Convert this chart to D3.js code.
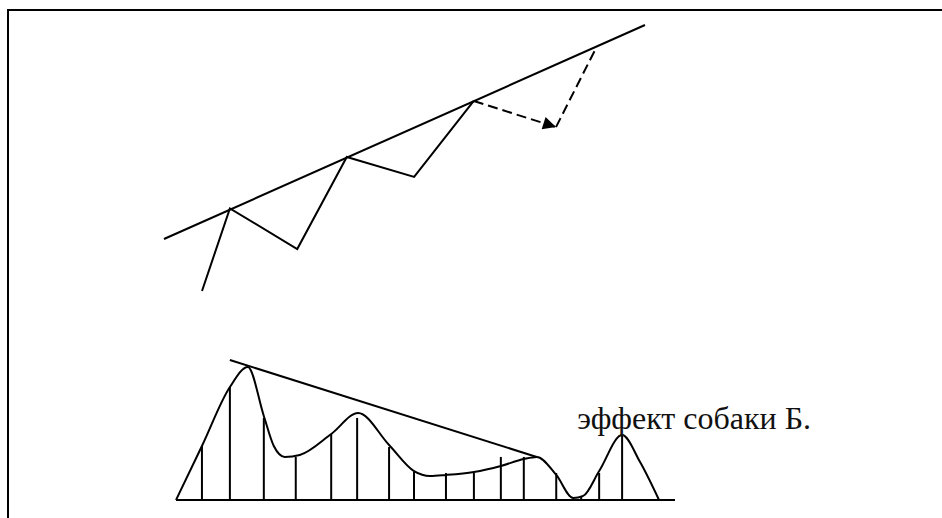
<!DOCTYPE html>
<html><head><meta charset="utf-8">
<script src="https://cdn.jsdelivr.net/npm/d3@7"></script>
<style>html,body{margin:0;padding:0;background:#fff;}svg{display:block;}</style>
</head><body>
<script>
// ---- Top panel: trend line and zigzag (data units 0..100) ----
const topTrend = [[0, 0], [100, 100]];
const topZigzag = [[7.9, -24.3], [13.7, 14.3], [27.7, -4.7], [38.0, 38.3], [52.0, 29.0], [64.4, 64.5]];
const topDashedArrow = [[64.4, 64.5], [81.5, 52.3]];
const topDashedUp = [[81.5, 52.3], [90.0, 90.0]];

// ---- Bottom panel: curve, verticals, trend line ----
const curveX = [0, 5.2, 10.8, 14.4, 17.6, 19.6, 21.8, 24.8, 31.1, 36.5, 42.7, 47.7, 50.9, 54.1, 59.7, 65.1, 69.7, 72.3, 76.2, 79.6, 81.6, 84.8, 89.4, 93.0, 96.8];
const curveY = [0, 36, 75.3, 88.7, 56, 36, 28.7, 30, 44, 58, 36.7, 19.3, 16, 16.7, 18.7, 22.7, 27.3, 28.7, 16.7, 1.3, 2.7, 19.3, 43.3, 25.3, 0];
const barX = [5.2, 10.8, 17.6, 24.0, 31.1, 36.3, 42.7, 47.7, 54.1, 59.7, 65.1, 69.7, 76.2, 81.2, 84.8, 89.4];
const barY = [36, 75.3, 54.7, 28.7, 44, 54.7, 35.3, 18.7, 18, 18, 28.7, 28.7, 18, 2, 18, 43.3];
const bottomTrend = [[10.8, 93.3], [72.3, 28.7]];
const baseline = [[0, 0], [100, 0]];
const label = "эффект собаки Б.";
const labelPos = [80.4, 47.3];

const W = 942, H = 518;
const svg = d3.select("body").append("svg").attr("width", W).attr("height", H);

// frame
svg.append("path").attr("d", `M8,${H} L8,10 L${W},10`).attr("fill", "none").attr("stroke", "#000").attr("stroke-width", 2);

const defs = svg.append("defs");
defs.append("marker").attr("id", "arr").attr("viewBox", "0 0 10 10")
  .attr("refX", 10).attr("refY", 5).attr("markerWidth", 18).attr("markerHeight", 13)
  .attr("markerUnits", "userSpaceOnUse").attr("orient", "auto")
  .append("path").attr("d", "M0,0 L10,5 L0,10 Z").attr("fill", "#000");

// top scales
const xT = d3.scaleLinear().domain([0, 100]).range([164, 645]);
const yT = d3.scaleLinear().domain([0, 100]).range([239, 25]);
const lineT = d3.line().x(d => xT(d[0])).y(d => yT(d[1]));

svg.append("path").attr("d", lineT(topTrend)).attr("fill", "none").attr("stroke", "#000").attr("stroke-width", 2);
svg.append("path").attr("d", lineT(topZigzag)).attr("fill", "none").attr("stroke", "#000").attr("stroke-width", 2).attr("stroke-linejoin", "miter");
svg.append("path").attr("d", lineT(topDashedArrow)).attr("fill", "none").attr("stroke", "#000").attr("stroke-width", 2).attr("stroke-dasharray", "10,5").attr("marker-end", "url(#arr)");
svg.append("path").attr("d", lineT(topDashedUp)).attr("fill", "none").attr("stroke", "#000").attr("stroke-width", 2).attr("stroke-dasharray", "10,5");

// bottom scales
const xB = d3.scaleLinear().domain([0, 100]).range([176, 675]);
const yB = d3.scaleLinear().domain([0, 100]).range([500, 350]);
const lineB = d3.line().x(d => xB(d[0])).y(d => yB(d[1]));

svg.append("path").attr("d", lineB(baseline)).attr("fill", "none").attr("stroke", "#000").attr("stroke-width", 2);
svg.selectAll("line.bar").data(barX.map((x, i) => [x, barY[i]])).enter().append("line")
  .attr("x1", d => xB(d[0])).attr("x2", d => xB(d[0]))
  .attr("y1", yB(0)).attr("y2", d => yB(d[1]))
  .attr("stroke", "#000").attr("stroke-width", 2);
const curvePts = curveX.map((x, i) => [x, curveY[i]]);
svg.append("path").attr("d", d3.line().x(d => xB(d[0])).y(d => yB(d[1])).curve(d3.curveMonotoneX)(curvePts))
  .attr("fill", "none").attr("stroke", "#000").attr("stroke-width", 2);
svg.append("path").attr("d", lineB(bottomTrend)).attr("fill", "none").attr("stroke", "#000").attr("stroke-width", 2);

svg.append("text").attr("x", xB(labelPos[0])).attr("y", yB(labelPos[1]))
  .style("font-family", '"Liberation Serif"').attr("font-size", 32).attr("fill", "#111").text(label);
</script>
</body></html>
